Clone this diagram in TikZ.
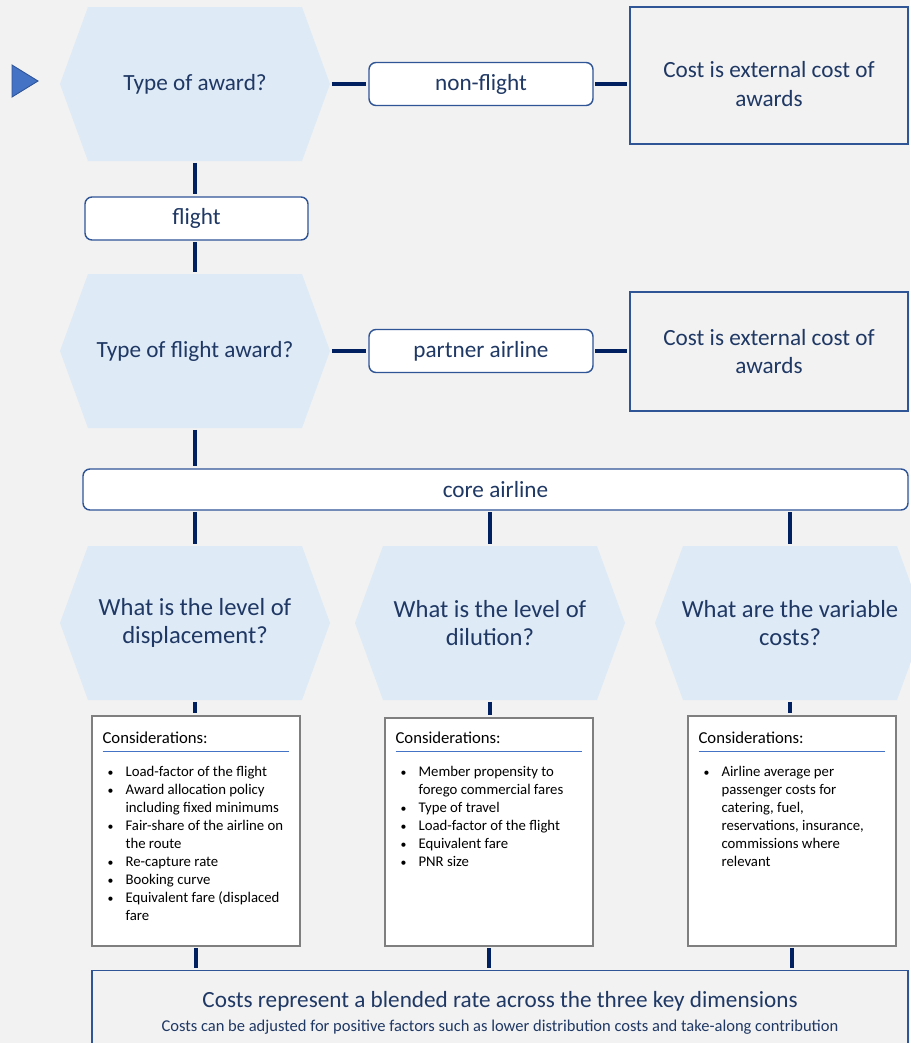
\documentclass[tikz,border=0pt]{standalone}
\usepackage{fontspec}
\setmainfont{Carlito}
\usetikzlibrary{positioning,calc}
\definecolor{PageGray}{RGB}{242,242,242}
\definecolor{HexBlue}{RGB}{222,234,246}
\definecolor{InkNavy}{RGB}{31,56,100}
\definecolor{LineNavy}{RGB}{0,32,96}
\definecolor{BoxBlue}{RGB}{47,85,151}
\definecolor{MarkBlue}{RGB}{68,114,196}
\definecolor{NoteGray}{RGB}{127,127,127}
\newcommand{\itm}[1]{\makebox[4.6mm][l]{\hspace{1mm}\scalebox{0.8}{\textbullet}}#1}
\newcommand{\cnt}[1]{\hspace*{4.6mm}#1}
\newcommand{\notehead}{{\fontsize{9.5}{10.2}\selectfont Considerations:}\\[-5.2pt]{\color{MarkBlue}\rule{37.2mm}{0.3mm}}\\[3.6pt]}
\tikzset{
  hexa/.style={minimum width=54mm,minimum height=30.8mm,inner sep=0pt,align=center,text=InkNavy,
    font=\fontsize{13.2}{16}\selectfont,
    path picture={\fill[HexBlue] (path picture bounding box.west)--([xshift=5.6mm]path picture bounding box.north west)
      --([xshift=-5.6mm]path picture bounding box.north east)--(path picture bounding box.east)
      --([xshift=-5.6mm]path picture bounding box.south east)--([xshift=5.6mm]path picture bounding box.south west)--cycle;}},
  pick/.style={draw=BoxBlue,line width=0.8pt,fill=white,rounded corners=4pt,minimum height=8.6mm,inner sep=0pt,
    text=InkNavy,font=\fontsize{13.2}{15}\selectfont},
  outcome/.style={draw=BoxBlue,line width=0.8pt,fill=PageGray,minimum width=55.6mm,align=center,text=InkNavy,
    font=\fontsize{13.2}{16}\selectfont},
}
\tikzset{notebox/.style={draw=NoteGray,line width=0.9pt,fill=white,minimum width=41.6mm,minimum height=46mm,inner sep=0pt},
  notetext/.style={anchor=north west,align=left,inner sep=0pt,font=\fontsize{8.4}{10.2}\selectfont},
  link/.style={draw=LineNavy,line width=1.9pt,shorten <=0.3mm,shorten >=0.4mm}}

\begin{document}
\begin{tikzpicture}[x=0.2mm,y=-0.2mm]
\useasboundingbox (0,0) rectangle (910,1043);
\fill[PageGray] (0,0) rectangle (910,1043);
\fill[MarkBlue,draw=BoxBlue,line width=0.5pt] (12,65)--(38,81)--(12,97)--cycle;
% award type
\node[hexa](award) at (195,84){Type of award?};
\node[pick,minimum width=44.8mm](nonflight) at (481,84){non-flight};
\node[outcome,minimum height=27.4mm,label={[yshift=-1.7mm,align=center,text=InkNavy,font=\fontsize{13.2}{16}\selectfont]center:Cost is external cost of\\awards}](ext1) at (769,75.5){};
\node[pick,minimum width=44.6mm](flight) at (196.5,218.5){flight};
% flight award type
\node[hexa](flighttype) at (195,351){Type of flight award?};
\node[pick,minimum width=44.8mm](partner) at (481,351){partner airline};
\node[outcome,minimum height=23.8mm](ext2) at (769,351.5){Cost is external cost of\\awards};
\node[pick,minimum width=165mm,minimum height=8.2mm](core) at (495.5,489.5){core airline};
% three dimensions
\node[hexa,font=\fontsize{14}{16}\selectfont](displace) at (195,623){What is the level of\\displacement?};
\node[hexa,font=\fontsize{14}{16}\selectfont](dilute) at (490,623){What is the level of\\dilution?};
\node[hexa,font=\fontsize{14}{16}\selectfont](varcost) at (790,623){What are the variable\\costs?};
\node[notebox](displace-box) at (196,831){};
\node[notebox,minimum height=45.6mm](dilute-box) at (489,832){};
\node[notebox](varcost-box) at (792,831){};
\node[notetext](displace-note) at ([xshift=2.2mm,yshift=-3.3mm]displace-box.north west){\notehead
  \itm{Load-factor of the flight}\\\itm{Award allocation policy}\\\cnt{including fixed minimums}\\
  \itm{Fair-share of the airline on}\\\cnt{the route}\\\itm{Re-capture rate}\\\itm{Booking curve}\\
  \itm{Equivalent fare (displaced}\\\cnt{fare}};
\node[notetext](dilute-note) at ([xshift=2.2mm,yshift=-2.9mm]dilute-box.north west){\notehead
  \itm{Member propensity to}\\\cnt{forego commercial fares}\\\itm{Type of travel}\\
  \itm{Load-factor of the flight}\\\itm{Equivalent fare}\\\itm{PNR size}};
\node[notetext](varcost-note) at ([xshift=2.2mm,yshift=-3.3mm]varcost-box.north west){\notehead
  \itm{Airline average per}\\\cnt{passenger costs for}\\\cnt{catering, fuel,}\\
  \cnt{reservations, insurance,}\\\cnt{commissions where}\\\cnt{relevant}};
\node[outcome,minimum width=163.2mm,minimum height=17mm,font=\fontsize{13.2}{13.4}\selectfont](blend) at (500,1013)
  {Costs represent a blended rate across the three key dimensions\\
   {\fontsize{9.4}{10}\selectfont Costs can be adjusted for positive factors such as lower distribution costs and take-along contribution}};
% connectors
\draw[link] (award.east)--(nonflight.west);\draw[link] (nonflight.east)--(nonflight.east -| ext1.west);
\draw[link] (award.south)--(award.south |- flight.north);\draw[link] (flighttype.north |- flight.south)--(flighttype.north);
\draw[link] (flighttype.east)--(partner.west);\draw[link] (partner.east)--(partner.east -| ext2.west);
\draw[link] (flighttype.south)--(flighttype.south |- core.north);
\foreach \h in {displace,dilute,varcost}{
  \draw[link] (\h.north |- core.south)--(\h.north);
  \draw[link] (\h.south)--(\h.south |- \h-box.north);
  \draw[link] (\h-box.south)--(\h-box.south |- blend.north);}
\end{tikzpicture}
\end{document}
